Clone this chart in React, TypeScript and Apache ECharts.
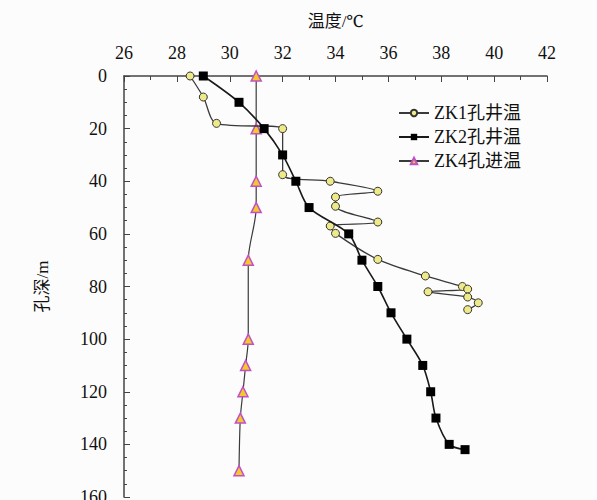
import React, { useEffect, useRef } from "react";
import * as echarts from "echarts";

const xTicks = [26, 28, 30, 32, 34, 36, 38, 40, 42];
const yTicks = [0, 20, 40, 60, 80, 100, 120, 140, 160];

const zk1Depth = [0, 8, 18, 20, 37.5, 40, 43.8, 46, 49.5, 55.5, 57, 59.8, 69.7, 76, 80, 81, 82, 84, 86.2, 88.8];
const zk1Temp = [28.5, 29.0, 29.5, 32.0, 32.0, 33.8, 35.6, 34.0, 34.0, 35.6, 33.8, 34.0, 35.6, 37.4, 38.8, 39.0, 37.5, 39.0, 39.4, 39.0];

const zk2Depth = [0, 10, 20, 30, 40, 50, 60, 70, 80, 90, 100, 110, 120, 130, 140, 142];
const zk2Temp = [29.0, 30.35, 31.3, 32.0, 32.5, 33.0, 34.5, 35.0, 35.6, 36.1, 36.7, 37.3, 37.6, 37.8, 38.3, 38.9];

const zk4Depth = [0, 20, 40, 50, 70, 100, 110, 120, 130, 150];
const zk4Temp = [31.0, 31.0, 31.0, 31.0, 30.7, 30.7, 30.6, 30.5, 30.4, 30.35];

const seriesNames = ["ZK1孔井温", "ZK2孔井温", "ZK4孔进温"];

const FONT = "Tinos, 'Nimbus Roman', 'Nimbus Roman No9 L', 'Noto Serif', 'DejaVu Serif', 'Noto Sans CJK SC', serif";

function pairs(t: number[], d: number[]) {
  return t.map((v, i) => [v, d[i]]);
}

export default function App() {
  const ref = useRef<HTMLDivElement>(null);
  useEffect(() => {
    if (!ref.current) return;
    const chart = echarts.init(ref.current, undefined, { renderer: "svg" });
    const lineColor = "#3a3a3a";
    chart.setOption({
      animation: false,
      backgroundColor: "#fcfcfc",
      textStyle: { fontFamily: FONT },
      grid: { left: 124, top: 76, right: 50, bottom: 3, outerBoundsMode: "none", containLabel: false },
      legend: {
        left: 393,
        top: 99,
        orient: "vertical",
        itemWidth: 30,
        itemHeight: 8,
        itemGap: 6,
        data: seriesNames,
        textStyle: { fontFamily: FONT, fontSize: 18, color: "#111" },
      },
      xAxis: {
        type: "value",
        position: "top",
        min: xTicks[0],
        max: xTicks[xTicks.length - 1],
        interval: 2,
        name: "温度/℃",
        nameLocation: "middle",
        nameGap: 46,
        nameTextStyle: { fontFamily: FONT, fontSize: 17, color: "#111" },
        axisLine: { show: true, lineStyle: { color: "#444", width: 1.5 } },
        axisTick: { show: true, inside: true, length: 6, lineStyle: { color: "#444" } },
        minorTick: { show: true, splitNumber: 2, length: 4, lineStyle: { color: "#444" } },
        axisLabel: { fontFamily: FONT, fontSize: 18, color: "#111", margin: 14 },
        splitLine: { show: false },
      },
      yAxis: {
        type: "value",
        inverse: true,
        min: yTicks[0],
        max: yTicks[yTicks.length - 1],
        interval: 20,
        name: "孔深/m",
        nameLocation: "middle",
        nameRotate: 90,
        nameGap: 73,
        nameTextStyle: { fontFamily: FONT, fontSize: 17, color: "#111" },
        axisLine: { show: true, lineStyle: { color: "#444", width: 1.5 } },
        axisTick: { show: true, inside: true, length: 6, lineStyle: { color: "#444" } },
        minorTick: { show: true, splitNumber: 4, length: 3, lineStyle: { color: "#444" } },
        axisLabel: { fontFamily: FONT, fontSize: 18, color: "#111", margin: 17 },
        splitLine: { show: false },
      },
      series: [
        {
          name: seriesNames[0],
          type: "line",
          data: pairs(zk1Temp, zk1Depth),
          smooth: 0.3,
          symbol: "circle",
          symbolSize: 8,
          lineStyle: { color: lineColor, width: 1.3 },
          itemStyle: { color: "#eeea8a", borderColor: "#333", borderWidth: 1 },
          z: 3,
        },
        {
          name: seriesNames[1],
          type: "line",
          data: pairs(zk2Temp, zk2Depth),
          smooth: 0.3,
          symbol: "rect",
          symbolSize: 9,
          lineStyle: { color: "#1a1a1a", width: 1.6 },
          itemStyle: { color: "#000", borderColor: "#000", borderWidth: 0 },
          z: 4,
        },
        {
          name: seriesNames[2],
          type: "line",
          data: pairs(zk4Temp, zk4Depth),
          smooth: 0.3,
          symbol: "triangle",
          symbolSize: 10,
          lineStyle: { color: lineColor, width: 1.2 },
          itemStyle: { color: "#f2c82a", borderColor: "#c04fc8", borderWidth: 1.5 },
          z: 2,
        },
      ],
    });
    return () => chart.dispose();
  }, []);
  return <div ref={ref} style={{ width: 597, height: 500, position: "absolute", left: 0, top: 0 }} />;
}
